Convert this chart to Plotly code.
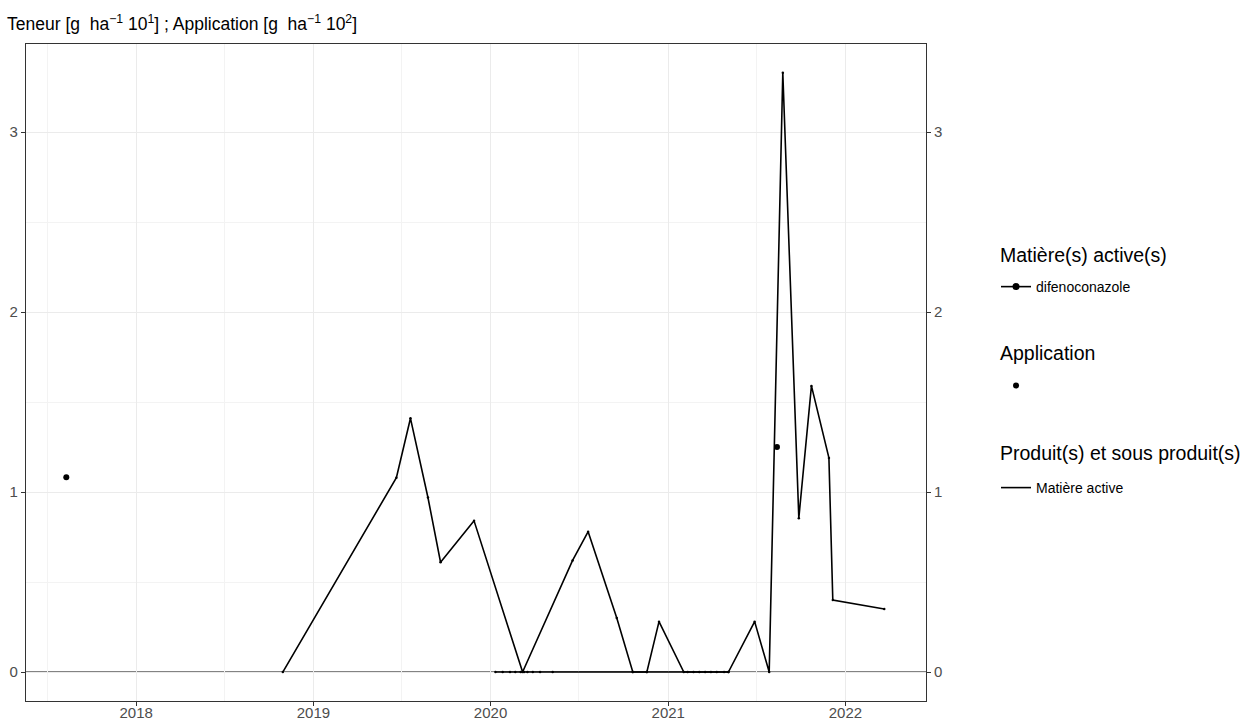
import plotly.graph_objects as go

# Teneur (main line) - difenoconazole
teneur_dates = ["2018-10-30", "2019-06-21", "2019-07-20", "2019-08-25", "2019-09-20",
                "2019-11-28", "2020-03-07", "2020-06-18", "2020-07-20", "2020-09-17",
                "2020-10-20", "2020-11-18", "2020-12-13", "2021-02-02", "2021-05-05",
                "2021-06-28", "2021-07-28", "2021-08-25", "2021-09-27", "2021-10-23",
                "2021-11-28", "2021-12-06", "2022-03-22"]
teneur_values = [0, 1.08, 1.41, 0.97, 0.61,
                 0.84, 0, 0.62, 0.78, 0.30,
                 0, 0, 0.28, 0, 0,
                 0.28, 0, 3.33, 0.855, 1.59,
                 1.19, 0.40, 0.35]

# Second group of measurements at zero
zero_dates = ["2020-01-11", "2020-01-26", "2020-02-10", "2020-02-21", "2020-03-03",
              "2020-03-10", "2020-03-17", "2020-03-28", "2020-04-12", "2020-05-08",
              "2020-10-20", "2020-11-18", "2021-02-10", "2021-02-22", "2021-03-06",
              "2021-03-18", "2021-03-30", "2021-04-11", "2021-04-26", "2021-05-05"]
zero_values = [0] * len(zero_dates)

# Applications
app_dates = ["2017-08-10", "2021-08-13"]
app_values = [1.083, 1.25]

y_ticks = [0, 1, 2, 3]
x_tick_years = ["2018", "2019", "2020", "2021", "2022"]

legend_titles = ["Matière(s) active(s)", "Application", "Produit(s) et sous produit(s)"]

font_family = "Liberation Sans, Arial, sans-serif"

fig = go.Figure()

fig.add_trace(go.Scatter(
    x=zero_dates, y=zero_values, mode="lines+markers",
    line=dict(color="black", width=1.6), marker=dict(color="black", size=2.5),
    showlegend=False, hoverinfo="skip"))

fig.add_trace(go.Scatter(
    x=teneur_dates, y=teneur_values, mode="lines+markers", name="difenoconazole",
    line=dict(color="black", width=1.6), marker=dict(color="black", size=2.5),
    showlegend=False))

# legend entries
fig.add_trace(go.Scatter(
    x=[None], y=[None], mode="lines+markers", name="difenoconazole",
    line=dict(color="black", width=1.6), marker=dict(color="black", size=7),
    legend="legend"))

fig.add_trace(go.Scatter(
    x=app_dates, y=app_values, mode="markers", name=" ",
    marker=dict(color="black", size=6), legend="legend2"))

fig.add_trace(go.Scatter(
    x=[None], y=[None], mode="lines", name="Matière active",
    line=dict(color="black", width=1.6), legend="legend3"))

# invisible trace for right axis
fig.add_trace(go.Scatter(x=[None], y=[None], yaxis="y2", showlegend=False,
                         hoverinfo="skip"))

fig.add_shape(type="line", xref="paper", x0=0, x1=1, yref="y", y0=0, y1=0,
              line=dict(color="#5A5A5A", width=1.4), layer="between")

title_y = [0.6788, 0.5297, 0.3775]
for t, yy in zip(legend_titles, title_y):
    fig.add_annotation(text=t, xref="paper", yref="paper", x=1.08, y=yy,
                       xanchor="left", yanchor="middle", showarrow=False,
                       font=dict(size=19.5, color="black"))

leg_common = dict(x=1.0778, xanchor="left", yanchor="middle",
                  font=dict(size=14, color="black"), bgcolor="rgba(0,0,0,0)",
                  itemwidth=30)

y_range = [-0.161, 3.49]
fig.update_layout(
    width=1257, height=725,
    margin=dict(l=26, r=331, t=44, b=24),
    paper_bgcolor="white", plot_bgcolor="white",
    font=dict(family=font_family, size=13, color="black"),
    title=dict(text="Teneur [g  ha<sup>−1</sup> 10<sup>1</sup>] ; Application [g  ha<sup>−1</sup> 10<sup>2</sup>]",
               x=0.0056, xref="container", xanchor="left", y=0.967, yanchor="middle",
               font=dict(size=17.5, color="black")),
    xaxis=dict(type="date", range=["2017-05-19", "2022-06-16"], automargin=False,
               tickvals=[f"{y}-01-01" for y in x_tick_years], ticktext=x_tick_years,
               showgrid=True, gridcolor="#EBEBEB", gridwidth=1.3,
               minor=dict(tickvals=["2017-07-02", "2018-07-02", "2019-07-02", "2020-07-01",
                                    "2021-07-02", "2022-07-02"],
                          showgrid=True, gridcolor="#F3F3F3", gridwidth=0.8, ticks=""),
               ticks="outside", ticklen=4, tickcolor="#333333",
               ticklabelstandoff=-6,
               tickfont=dict(color="#4D4D4D", size=15),
               showline=True, linecolor="#333333", linewidth=1.2, mirror=True,
               zeroline=False),
    yaxis=dict(range=y_range, tickvals=y_ticks, automargin=False,
               showgrid=True, gridcolor="#EBEBEB", gridwidth=1.3,
               minor=dict(tickvals=[0.5, 1.5, 2.5], showgrid=True,
                          gridcolor="#F3F3F3", gridwidth=0.8, ticks=""),
               ticks="outside", ticklen=4, tickcolor="#333333",
               tickfont=dict(color="#4D4D4D", size=15),
               showline=True, linecolor="#333333", linewidth=1.2, mirror=True,
               zeroline=False),
    yaxis2=dict(range=y_range, tickvals=y_ticks, overlaying="y", side="right",
                matches="y", showgrid=False, zeroline=False, automargin=False,
                ticks="outside", ticklen=4, tickcolor="#333333",
                tickfont=dict(color="#4D4D4D", size=15)),
    legend=dict(y=0.6301, **leg_common),
    legend2=dict(y=0.4795, **leg_common),
    legend3=dict(y=0.3242, **leg_common),
    showlegend=True,
)

fig.write_html("out.html", config={"displayModeBar": False},
               post_script="document.body.style.margin='0';document.body.style.overflow='hidden';")
